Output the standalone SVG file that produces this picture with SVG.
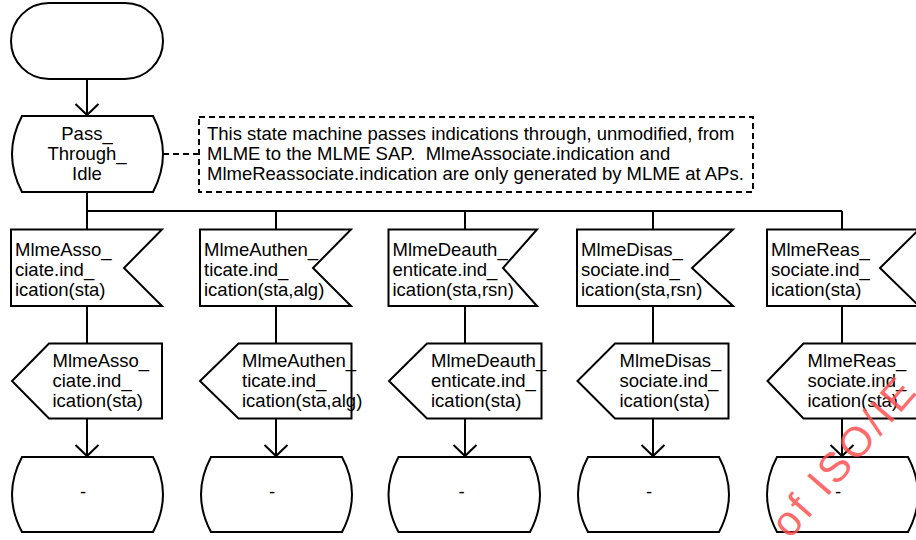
<svg xmlns="http://www.w3.org/2000/svg" width="916" height="540" viewBox="0 0 916 540">
<defs>
<style>
.s{fill:#fff;stroke:#000;stroke-width:2;stroke-linejoin:miter}
.l{fill:none;stroke:#000;stroke-width:2}
.d{fill:none;stroke:#000;stroke-width:2;stroke-dasharray:6 4}
text{font-family:"Liberation Sans",Arial,Helvetica,sans-serif;font-size:18.5px;fill:#000}
.c{text-anchor:middle}
.wm{font-size:42px;letter-spacing:3px;fill:#ff5050;fill-opacity:0.85}
</style>
<marker id="arr" markerUnits="userSpaceOnUse" viewBox="-14 -14 28 28" markerWidth="28" markerHeight="28" refX="0" refY="0" orient="auto">
<path d="M-11,-11.5 L0,0 L-11,11.5" fill="none" stroke="#000" stroke-width="2"/>
</marker>
</defs>
<rect width="916" height="540" fill="#fff"/>

<g id="connectors">
<path class="l" d="M87,79 V115" marker-end="url(#arr)"/>
<path class="d" d="M163,154 H199"/>
<path class="l" d="M87,192 V229.5 M87,211 H842 M276,211 V229.5 M465,211 V229.5 M653,211 V229.5 M842,211 V229.5"/>
<path class="l" d="M87,306 V343.5 M276,306 V343.5 M465,306 V343.5 M653,306 V343.5 M842,306 V343.5"/>
<path class="l" d="M87,418.5 V456" marker-end="url(#arr)"/>
<path class="l" d="M276,418.5 V456" marker-end="url(#arr)"/>
<path class="l" d="M465,418.5 V456" marker-end="url(#arr)"/>
<path class="l" d="M653,418.5 V456" marker-end="url(#arr)"/>
<path class="l" d="M842,418.5 V456" marker-end="url(#arr)"/>
</g>

<g id="start">
<rect class="s" x="11" y="3" width="152" height="76" rx="38" ry="38"/>
</g>

<g id="pass_through_idle">
<path class="s" d="M22,116 H153 Q173,154 153,192 H22 Q2,154 22,116 Z"/>
<text class="c" x="87" y="139.5">Pass_</text>
<text class="c" x="87" y="159.5">Through_</text>
<text class="c" x="87" y="179.5">Idle</text>
</g>

<g id="comment">
<rect class="d" x="199" y="117" width="554" height="75" fill="#fff"/>
<text x="207" y="140">This state machine passes indications through, unmodified, from</text>
<text x="207" y="160" xml:space="preserve">MLME to the MLME SAP.  MlmeAssociate.indication and</text>
<text x="207" y="180">MlmeReassociate.indication are only generated by MLME at APs.</text>
</g>

<g id="in_assoc">
<path class="s" d="M11,229.5 H162 L124,268 L162,306 H11 Z"/>
<text x="15" y="256">MlmeAsso_</text>
<text x="15" y="276">ciate.ind_</text>
<text x="15" y="296">ication(sta)</text>
</g>
<g id="in_authen">
<path class="s" d="M200,229.5 H351 L313,268 L351,306 H200 Z"/>
<text x="204" y="256">MlmeAuthen_</text>
<text x="204" y="276">ticate.ind_</text>
<text x="204" y="296">ication(sta,alg)</text>
</g>
<g id="in_deauth">
<path class="s" d="M388.5,229.5 H537 L503,268 L537,306 H388.5 Z"/>
<text x="392.5" y="256">MlmeDeauth_</text>
<text x="392.5" y="276">enticate.ind_</text>
<text x="392.5" y="296">ication(sta,rsn)</text>
</g>
<g id="in_disassoc">
<path class="s" d="M577,229.5 H733 L692,268 L733,306 H577 Z"/>
<text x="581" y="256">MlmeDisas_</text>
<text x="581" y="276">sociate.ind_</text>
<text x="581" y="296">ication(sta,rsn)</text>
</g>
<g id="in_reassoc">
<path class="s" d="M767,229.5 H919 L880,268 L919,306 H767 Z"/>
<text x="771" y="256">MlmeReas_</text>
<text x="771" y="276">sociate.ind_</text>
<text x="771" y="296">ication(sta)</text>
</g>

<g id="out_assoc">
<path class="s" d="M49,343.5 H162 V418.5 H49 L12,381 Z"/>
<text x="52.5" y="367">MlmeAsso_</text>
<text x="52.5" y="387">ciate.ind_</text>
<text x="52.5" y="407">ication(sta)</text>
</g>
<g id="out_authen">
<path class="s" d="M238.5,343.5 H351.5 V418.5 H238.5 L200,381 Z"/>
<text x="242" y="367">MlmeAuthen_</text>
<text x="242" y="387">ticate.ind_</text>
<text x="242" y="407">ication(sta,alg)</text>
</g>
<g id="out_deauth">
<path class="s" d="M427,343.5 H541.5 V418.5 H427 L389,381 Z"/>
<text x="431" y="367">MlmeDeauth_</text>
<text x="431" y="387">enticate.ind_</text>
<text x="431" y="407">ication(sta)</text>
</g>
<g id="out_disassoc">
<path class="s" d="M615,343.5 H728.5 V418.5 H615 L577.5,381 Z"/>
<text x="619.5" y="367">MlmeDisas_</text>
<text x="619.5" y="387">sociate.ind_</text>
<text x="619.5" y="407">ication(sta)</text>
</g>
<g id="out_reassoc">
<path class="s" d="M803.5,343.5 H919 V418.5 H803.5 L767.5,381 Z"/>
<text x="807.5" y="367">MlmeReas_</text>
<text x="807.5" y="387">sociate.ind_</text>
<text x="807.5" y="407">ication(sta)</text>
</g>

<g id="state_1">
<path class="s" d="M22,457 H153 Q173,494.5 153,532 H22 Q2,494.5 22,457 Z"/>
<text class="c" x="83" y="498">-</text>
</g>
<g id="state_2">
<path class="s" d="M211,457 H342 Q362,494.5 342,532 H211 Q191,494.5 211,457 Z"/>
<text class="c" x="272" y="498">-</text>
</g>
<g id="state_3">
<path class="s" d="M398.5,457 H530 Q550,494.5 530,532 H398.5 Q378.5,494.5 398.5,457 Z"/>
<text class="c" x="461.5" y="498">-</text>
</g>
<g id="state_4">
<path class="s" d="M588,457 H719 Q739,494.5 719,532 H588 Q568,494.5 588,457 Z"/>
<text class="c" x="649" y="498">-</text>
</g>
<g id="state_5">
<path class="s" d="M777,457 H908 Q928,494.5 908,532 H777 Q757,494.5 777,457 Z"/>
<text class="c" x="838" y="498">-</text>
</g>

<g id="watermark">
<text class="wm" transform="translate(790,540) rotate(-49)">of ISO/IE</text>
</g>
</svg>
